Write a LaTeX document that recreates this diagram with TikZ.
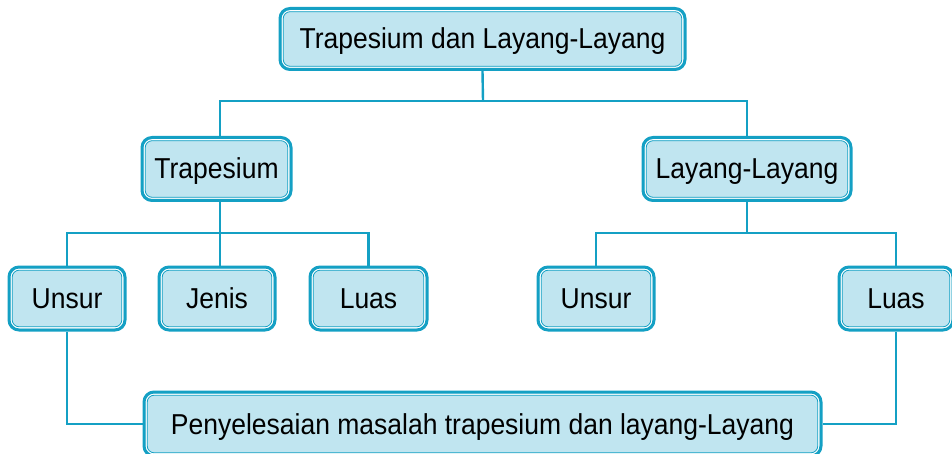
\documentclass[tikz,border=0pt]{standalone}
\usepackage{fontspec}
\setmainfont[FakeStretch=0.92]{Liberation Sans}
\definecolor{linec}{HTML}{14A0C4}
\definecolor{fillc}{HTML}{C0E5F0}
\begin{document}
\begin{tikzpicture}[x=1pt,y=1pt,
  boxn/.style={draw=linec, line width=3pt, fill=fillc, rounded corners=10pt,
    font=\fontsize{28.8}{33}\selectfont, inner sep=0pt, text height=20pt, text depth=-1pt,
    path picture={
      \draw[white,line width=1.2pt,rounded corners=8pt]
        ([shift={(2.2pt,2.2pt)}]path picture bounding box.south west) rectangle
        ([shift={(-2.2pt,-2.2pt)}]path picture bounding box.north east);
      \draw[linec,line width=0.8pt,rounded corners=7pt]
        ([shift={(3.2pt,3.2pt)}]path picture bounding box.south west) rectangle
        ([shift={(-3.2pt,-3.2pt)}]path picture bounding box.north east);
    }},
  conn/.style={draw=linec, line width=2.4pt}]
\useasboundingbox (0,0) rectangle (952,-454);
\node[boxn, minimum width=405pt, minimum height=61pt] (top) at (482.5,-39) {Trapesium dan Layang-Layang};
\node[boxn, minimum width=149pt, minimum height=63pt] (trap) at (216.5,-169) {Trapesium};
\node[boxn, minimum width=208pt, minimum height=63pt] (lay) at (747,-169) {Layang-Layang};
\node[boxn, minimum width=116pt, minimum height=63pt] (u1) at (67,-298.5) {Unsur};
\node[boxn, minimum width=116pt, minimum height=63pt] (j1) at (217,-298.5) {Jenis};
\node[boxn, minimum width=117pt, minimum height=63pt] (l1) at (368.5,-298.5) {Luas};
\node[boxn, minimum width=116pt, minimum height=63pt] (u2) at (596,-298.5) {Unsur};
\node[boxn, minimum width=114pt, minimum height=63pt] (l2) at (896,-298.5) {Luas};
\node[boxn, minimum width=677pt, minimum height=64pt] (pen) at (482.5,-424) {Penyelesaian masalah trapesium dan layang-Layang};
\coordinate (a) at (483,-101);
\coordinate (b) at (220,-233);
\coordinate (c) at (747,-233);
\draw[conn] (top.south) -- (a);
\draw[conn] (trap.north -| 220,0) |- (a) -| (lay.north);
\draw[conn] (trap.south -| 220,0) -- (b);
\draw[conn] (u1.north) |- (b) -| (l1.north);
\draw[conn] (b) -- (j1.north -| b);
\draw[conn] (lay.south) -- (c);
\draw[conn] (u2.north) |- (c) -| (l2.north);
\draw[conn] (u1.south) |- (pen.west);
\draw[conn] (l2.south) |- (pen.east);
\end{tikzpicture}
\end{document}
